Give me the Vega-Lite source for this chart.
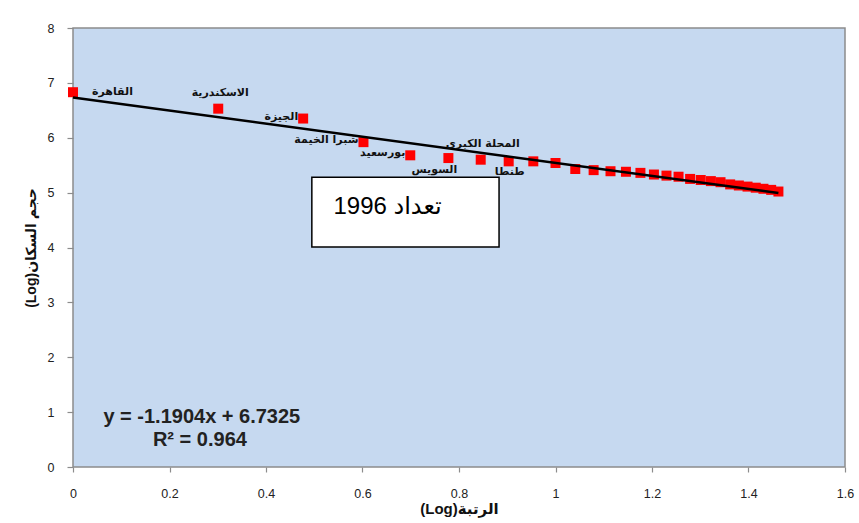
{
  "$schema": "https://vega.github.io/schema/vega-lite/v6.json",
  "width": 772,
  "height": 439,
  "autosize": {"type": "none"},
  "padding": {"left": 73, "top": 28, "right": 14, "bottom": 56},
  "background": "white",
  "config": {
    "view": {"fill": "#C6D9F0", "stroke": "#8C8C8C", "strokeWidth": 1.5},
    "axis": {
      "grid": false,
      "domain": false,
      "tickColor": "#8C8C8C",
      "tickWidth": 1.2,
      "labelFont": "Liberation Sans",
      "labelFontSize": 12.5,
      "labelColor": "#222222",
      "labelFlush": false,
      "titleFont": "Liberation Sans, DejaVu Sans",
      "titleFontWeight": "bold",
      "titleColor": "#111111"
    }
  },
  "datasets": {
    "cities": [
      {"rank": 1, "x": 0.0, "y": 6.83, "name": "القاهرة"},
      {"rank": 2, "x": 0.301, "y": 6.53, "name": "الاسكندرية"},
      {"rank": 3, "x": 0.477, "y": 6.35, "name": "الجيزة"},
      {"rank": 4, "x": 0.602, "y": 5.92, "name": "شبرا الخيمة"},
      {"rank": 5, "x": 0.699, "y": 5.68, "name": "بورسعيد"},
      {"rank": 6, "x": 0.778, "y": 5.63, "name": "السويس"},
      {"rank": 7, "x": 0.845, "y": 5.6, "name": "المحلة الكبرى"},
      {"rank": 8, "x": 0.903, "y": 5.57, "name": "طنطا"},
      {"rank": 9, "x": 0.954, "y": 5.57, "name": ""},
      {"rank": 10, "x": 1.0, "y": 5.54, "name": ""},
      {"rank": 11, "x": 1.041, "y": 5.43, "name": ""},
      {"rank": 12, "x": 1.079, "y": 5.41, "name": ""},
      {"rank": 13, "x": 1.114, "y": 5.39, "name": ""},
      {"rank": 14, "x": 1.146, "y": 5.38, "name": ""},
      {"rank": 15, "x": 1.176, "y": 5.36, "name": ""},
      {"rank": 16, "x": 1.204, "y": 5.33, "name": ""},
      {"rank": 17, "x": 1.23, "y": 5.31, "name": ""},
      {"rank": 18, "x": 1.255, "y": 5.29, "name": ""},
      {"rank": 19, "x": 1.279, "y": 5.25, "name": ""},
      {"rank": 20, "x": 1.301, "y": 5.23, "name": ""},
      {"rank": 21, "x": 1.322, "y": 5.21, "name": ""},
      {"rank": 22, "x": 1.342, "y": 5.19, "name": ""},
      {"rank": 23, "x": 1.362, "y": 5.15, "name": ""},
      {"rank": 24, "x": 1.38, "y": 5.13, "name": ""},
      {"rank": 25, "x": 1.398, "y": 5.11, "name": ""},
      {"rank": 26, "x": 1.415, "y": 5.09, "name": ""},
      {"rank": 27, "x": 1.431, "y": 5.07, "name": ""},
      {"rank": 28, "x": 1.447, "y": 5.05, "name": ""},
      {"rank": 29, "x": 1.462, "y": 5.02, "name": ""}
    ],
    "trend": [
      {"x": 0.0, "y": 6.7325},
      {"x": 1.462, "y": 4.9922}
    ],
    "box": [
      {"x": 0.495, "x2": 0.883, "y": 5.28, "y2": 4.01, "label": "تعداد 1996", "tx": 0.652, "ty": 4.74}
    ],
    "notes": [
      {"text": "y = -1.1904x + 6.7325", "x": 0.267, "y": 0.91},
      {"text": "R² = 0.964", "x": 0.263, "y": 0.49}
    ]
  },
  "layer": [
    {
      "data": {"name": "cities"},
      "mark": {"type": "square", "filled": true, "color": "#FF0000", "size": 100, "opacity": 1},
      "encoding": {
        "x": {
          "field": "x", "type": "quantitative",
          "scale": {"domain": [0, 1.6], "nice": false, "zero": false},
          "axis": {"values": [0, 0.2, 0.4, 0.6, 0.8, 1, 1.2, 1.4, 1.6], "labelExpr": "format(datum.value, '~g')", "tickSize": 5, "labelPadding": 15, "titleFontSize": 15, "titlePadding": 2},
          "title": "(Log)الرتبة"
        },
        "y": {
          "field": "y", "type": "quantitative",
          "scale": {"domain": [0, 8], "nice": false, "zero": false},
          "axis": {"values": [0, 1, 2, 3, 4, 5, 6, 7, 8], "tickSize": 6, "labelPadding": 13, "titleFontSize": 14, "titlePadding": 9},
          "title": "(Log)حجم السكان"
        }
      }
    },
    {
      "data": {"name": "trend"},
      "mark": {"type": "line", "color": "#000000", "strokeWidth": 2.5},
      "encoding": {
        "x": {"field": "x", "type": "quantitative", "title": "(Log)الرتبة"},
        "y": {"field": "y", "type": "quantitative", "title": "(Log)حجم السكان"}
      }
    },
    {
      "data": {"name": "cities"},
      "transform": [{"filter": {"field": "name", "oneOf": ["القاهرة"]}}],
      "mark": {"type": "text", "align": "left", "baseline": "middle", "dx": 19, "dy": 0, "font": "DejaVu Sans", "fontWeight": "bold", "fontSize": 11, "color": "#111111"},
      "encoding": {
        "x": {"field": "x", "type": "quantitative", "title": "(Log)الرتبة"},
        "y": {"field": "y", "type": "quantitative", "title": "(Log)حجم السكان"},
        "text": {"field": "name"}
      }
    },
    {
      "data": {"name": "cities"},
      "transform": [{"filter": {"field": "name", "oneOf": ["الاسكندرية", "المحلة الكبرى"]}}],
      "mark": {"type": "text", "align": "center", "baseline": "middle", "dx": 2, "dy": -16, "font": "DejaVu Sans", "fontWeight": "bold", "fontSize": 11, "color": "#111111"},
      "encoding": {
        "x": {"field": "x", "type": "quantitative", "title": "(Log)الرتبة"},
        "y": {"field": "y", "type": "quantitative", "title": "(Log)حجم السكان"},
        "text": {"field": "name"}
      }
    },
    {
      "data": {"name": "cities"},
      "transform": [{"filter": {"field": "name", "oneOf": ["الجيزة", "شبرا الخيمة", "بورسعيد"]}}],
      "mark": {"type": "text", "align": "right", "baseline": "middle", "dx": -5, "dy": -2, "font": "DejaVu Sans", "fontWeight": "bold", "fontSize": 11, "color": "#111111"},
      "encoding": {
        "x": {"field": "x", "type": "quantitative", "title": "(Log)الرتبة"},
        "y": {"field": "y", "type": "quantitative", "title": "(Log)حجم السكان"},
        "text": {"field": "name"}
      }
    },
    {
      "data": {"name": "cities"},
      "transform": [{"filter": {"field": "name", "oneOf": ["السويس"]}}],
      "mark": {"type": "text", "align": "center", "baseline": "middle", "dx": -14, "dy": 12, "font": "DejaVu Sans", "fontWeight": "bold", "fontSize": 11, "color": "#111111"},
      "encoding": {
        "x": {"field": "x", "type": "quantitative", "title": "(Log)الرتبة"},
        "y": {"field": "y", "type": "quantitative", "title": "(Log)حجم السكان"},
        "text": {"field": "name"}
      }
    },
    {
      "data": {"name": "cities"},
      "transform": [{"filter": {"field": "name", "oneOf": ["طنطا"]}}],
      "mark": {"type": "text", "align": "center", "baseline": "middle", "dx": 1, "dy": 11, "font": "DejaVu Sans", "fontWeight": "bold", "fontSize": 11, "color": "#111111"},
      "encoding": {
        "x": {"field": "x", "type": "quantitative", "title": "(Log)الرتبة"},
        "y": {"field": "y", "type": "quantitative", "title": "(Log)حجم السكان"},
        "text": {"field": "name"}
      }
    },
    {
      "data": {"name": "box"},
      "mark": {"type": "rect", "fill": "#FFFFFF", "stroke": "#000000", "strokeWidth": 1.5},
      "encoding": {
        "x": {"field": "x", "type": "quantitative", "title": "(Log)الرتبة"},
        "x2": {"field": "x2"},
        "y": {"field": "y", "type": "quantitative", "title": "(Log)حجم السكان"},
        "y2": {"field": "y2"}
      }
    },
    {
      "data": {"name": "box"},
      "mark": {"type": "text", "align": "center", "baseline": "middle", "font": "Liberation Sans, DejaVu Sans", "fontSize": 24, "color": "#000000"},
      "encoding": {
        "x": {"field": "tx", "type": "quantitative", "title": "(Log)الرتبة"},
        "y": {"field": "ty", "type": "quantitative", "title": "(Log)حجم السكان"},
        "text": {"field": "label"}
      }
    },
    {
      "data": {"name": "notes"},
      "mark": {"type": "text", "align": "center", "baseline": "middle", "font": "Liberation Sans", "fontWeight": "bold", "fontSize": 20, "color": "#222222"},
      "encoding": {
        "x": {"field": "x", "type": "quantitative", "title": "(Log)الرتبة"},
        "y": {"field": "y", "type": "quantitative", "title": "(Log)حجم السكان"},
        "text": {"field": "text"}
      }
    }
  ]
}
